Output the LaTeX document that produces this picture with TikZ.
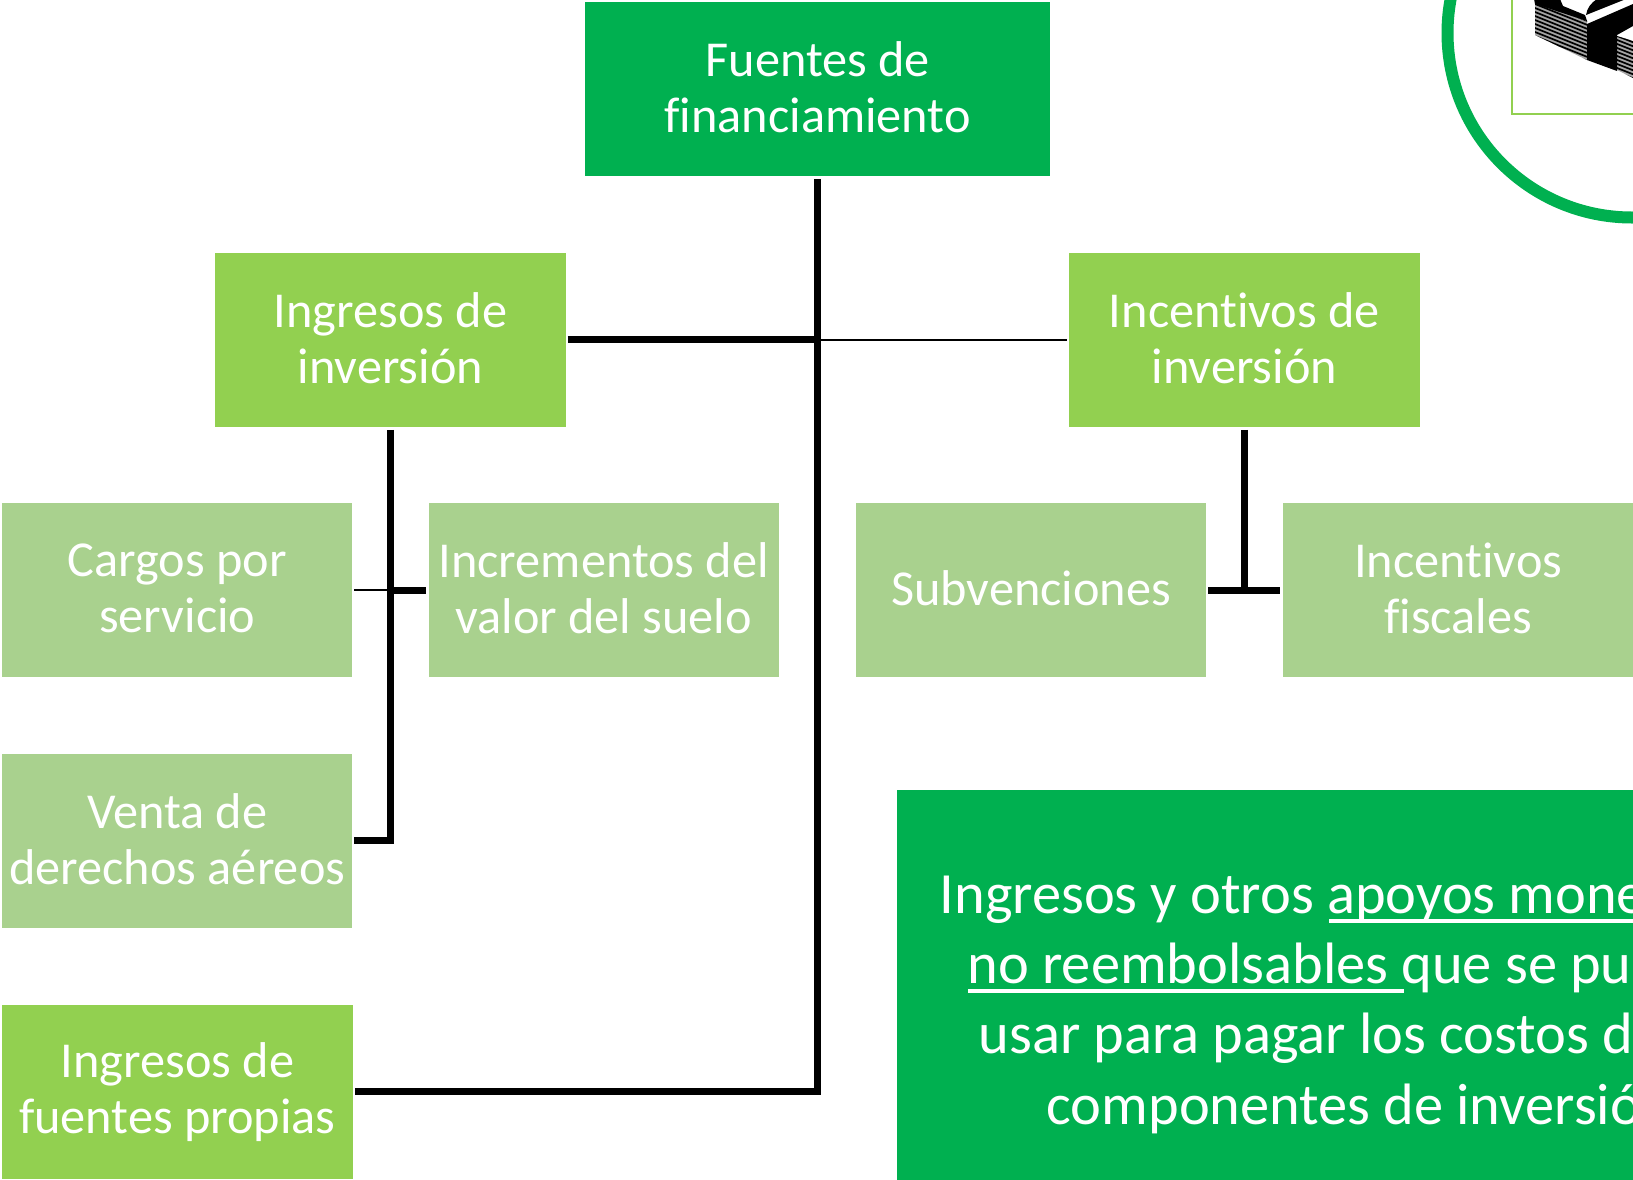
\documentclass[tikz,border=0pt]{standalone}
\usepackage{fontspec}
\setmainfont[Ligatures=NoCommon]{Carlito}
\definecolor{gA}{HTML}{00B050}
\definecolor{gB}{HTML}{92D050}
\definecolor{gC}{HTML}{A9D18E}
\newcommand{\up}[1]{\raisebox{4pt}{#1}}
\tikzset{
  box/.style={draw=none,text=white,inner sep=0pt,align=center,anchor=north west,font=\fontsize{50.3}{55.7}\selectfont},
  boxA/.style={box,fill=gA,minimum width=465pt,minimum height=174pt},
  boxB/.style={box,fill=gB,minimum width=350.5pt,minimum height=174pt},
  boxC/.style={box,fill=gC,minimum width=350pt,minimum height=174pt},
  thickc/.style={draw=black,line width=6.6pt,line join=miter},
  thinc/.style={draw=black,line width=2pt},
  para/.style={text=white,inner sep=0pt,anchor=base west,font=\fontsize{58.4}{70}\selectfont},
}
\begin{document}
\begin{tikzpicture}[x=1pt,y=-1pt]
\useasboundingbox (0,0) rectangle (1633,1179);
\clip (0,0) rectangle (1633,1179);
\fill[white] (0,0) rectangle (1633,1179);
% ring and picture
\draw[gA,line width=12pt] (1632,33) circle [radius=184.5pt];
\draw[gB,line width=2pt] (1512,-50) rectangle (1700,114);
% money icon
\fill[gray!70] (1535,3) -- (1587,21) -- (1587,60) -- (1535,35) -- cycle;
\begin{scope}
  \clip (1535,3) -- (1587,21) -- (1587,60) -- (1535,35) -- cycle;
  \foreach \k in {0,4,...,64} {\draw[black,line width=1.7pt] (1530,\k-2) -- (1590,\k+22);}
\end{scope}
\fill[gray!70] (1617,36) -- (1633,41) -- (1633,78) -- (1617,70) -- cycle;
\begin{scope}
  \clip (1617,36) -- (1633,41) -- (1633,78) -- (1617,70) -- cycle;
  \foreach \k in {0,4,...,48} {\draw[black,line width=1.7pt] (1612,\k+30) -- (1640,\k+41);}
\end{scope}
\fill[black] (1534,-1) -- (1560,-1) -- (1563,6) -- (1585,15) -- (1587,21) -- (1535,4) -- cycle;
\fill[black] (1587,24) -- (1633,4) -- (1633,26) -- (1617,35) -- (1617,71) -- (1587,60) -- cycle;
\fill[black] (1586,15) .. controls (1587,8) and (1591,3) .. (1597,-1) -- (1626,-1) -- cycle;
\fill[white] (1620,35) -- (1633,28) -- (1633,33) -- (1626,37) -- cycle;
% boxes
\node[boxA] (root) at (585,2) {\up{Fuentes de}\\\up{financiamiento}};
\node[boxB] (ing) at (215,252.5) {\up{Ingresos de}\\\up{inversión}};
\node[boxB] (inc) at (1069,252.5) {\up{Incentivos de}\\\up{inversión}};
\node[boxC] (cargos) at (2,503) {\up{Cargos por}\\\up{servicio}};
\node[boxC] (incr) at (428.5,503) {\up{Incrementos del}\\\up{valor del suelo}};
\node[boxC] (subv) at (856,503) {\up{Subvenciones}};
\node[boxC] (ifis) at (1283,503) {\up{Incentivos}\\\up{fiscales}};
\node[boxC] (venta) at (2,754) {\up{Venta de}\\\up{derechos aéreos}};
\node[boxB] (fp) at (2,1005) {\up{Ingresos de}\\\up{fuentes propias}};
% big text box
\fill[gA] (897,790) rectangle (1700,1250);
\node[para] (l1) at (939.5,913) {Ingresos y otros apoyos mone};
\node[para] (l2) at (967.5,983) {no reembolsables que se pu};
\node[para] (l3) at (978.5,1053.5) {usar para pagar los costos d};
\node[para] (l4) at (1046.5,1124) {componentes de inversió};
\draw[white,line width=3.4pt] (1329,921) -- (1640,921);
\draw[white,line width=3.4pt] (968,991) -- (1404,991);
% connectors
\coordinate (jr) at (ing.east -| root.south);
\draw[thickc,shorten <=3pt,shorten >=2pt] (root.south) |- ([yshift=1pt]fp.east);
\draw[thickc,shorten <=2pt] (ing.east) -- (jr);
\draw[thinc,shorten >=2pt] (jr) -- (inc.west);
\draw[thickc,shorten <=3pt,shorten >=2pt] (ing.south) |- ([yshift=1pt]venta.east);
\coordinate (jl) at (ing.south |- cargos.east);
\draw[thinc,shorten <=2pt] (cargos.east) -- (jl);
\draw[thickc,shorten >=2.5pt] (jl) -- (incr.west);
\coordinate (ji) at (inc.south |- subv.east);
\draw[thickc,shorten <=3pt] (inc.south) -- (ji);
\draw[thickc,shorten <=2pt,shorten >=3pt] (subv.east) -- (ifis.west);
\end{tikzpicture}
\end{document}
